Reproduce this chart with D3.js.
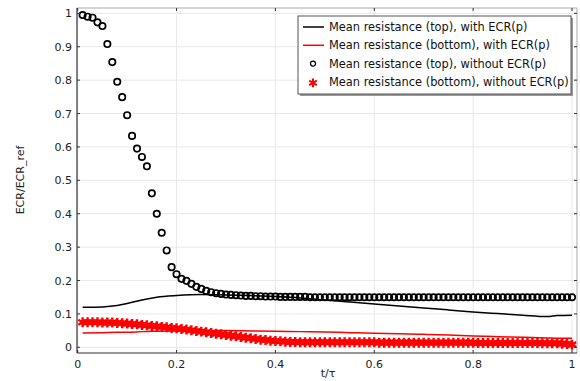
<!DOCTYPE html>
<meta charset="utf-8">
<style>
    html, body { margin: 0; background: #fff; }
    svg { display: block; font-family: "DejaVu Sans", sans-serif; }
    .grid line { stroke: #e8e8e8; stroke-width: 1; }
    .tick-label { font-size: 11px; fill: #222; }
    .legend text { font-size: 11.4px; fill: #111; }
</style>
<div id="chart"></div>
<script src="https://d3js.org/d3.v7.min.js"></script>
<script>
    // t/tau sample points for the marker series (0.01 .. 1.00)
    var tMarkers = d3.range(1, 101).map(function(i) { return i / 100; });

    // Mean resistance (top), without ECR(p) - open circles
    var topWithout = [
        0.995, 0.990, 0.987, 0.973, 0.962, 0.908, 0.854, 0.795, 0.749, 0.695,
        0.633, 0.595, 0.570, 0.542, 0.461, 0.400, 0.343, 0.290, 0.240, 0.219,
        0.205, 0.199, 0.190, 0.181, 0.175, 0.169, 0.165, 0.162, 0.160, 0.158,
        0.157, 0.156, 0.155, 0.154, 0.154, 0.153, 0.153, 0.152, 0.152, 0.152,
        0.151, 0.151, 0.151, 0.151, 0.151, 0.151, 0.150, 0.150, 0.150, 0.150,
        0.150, 0.150, 0.150, 0.150, 0.150, 0.150, 0.150, 0.150, 0.150, 0.150,
        0.150, 0.150, 0.150, 0.150, 0.150, 0.150, 0.150, 0.150, 0.150, 0.150,
        0.150, 0.150, 0.150, 0.150, 0.150, 0.150, 0.150, 0.150, 0.150, 0.150,
        0.150, 0.150, 0.150, 0.150, 0.150, 0.150, 0.150, 0.150, 0.150, 0.150,
        0.150, 0.150, 0.150, 0.150, 0.150, 0.150, 0.150, 0.150, 0.150, 0.150
    ];

    // Mean resistance (bottom), without ECR(p) - red asterisks
    var bottomWithout = [
        0.075, 0.075, 0.075, 0.075, 0.074, 0.074, 0.074, 0.073, 0.072, 0.071,
        0.070, 0.069, 0.067, 0.066, 0.064, 0.063, 0.061, 0.060, 0.058, 0.057,
        0.055, 0.053, 0.051, 0.049, 0.047, 0.045, 0.043, 0.041, 0.039, 0.037,
        0.035, 0.033, 0.031, 0.029, 0.027, 0.025, 0.023, 0.022, 0.020, 0.019,
        0.018, 0.017, 0.016, 0.016, 0.015, 0.015, 0.015, 0.015, 0.015, 0.015,
        0.015, 0.015, 0.015, 0.015, 0.015, 0.015, 0.015, 0.015, 0.015, 0.015,
        0.014, 0.014, 0.014, 0.014, 0.014, 0.014, 0.014, 0.014, 0.014, 0.014,
        0.014, 0.014, 0.014, 0.014, 0.014, 0.014, 0.014, 0.014, 0.014, 0.014,
        0.013, 0.013, 0.013, 0.013, 0.013, 0.013, 0.013, 0.013, 0.013, 0.013,
        0.013, 0.013, 0.013, 0.012, 0.012, 0.012, 0.012, 0.011, 0.010, 0.008
    ];

    // t/tau points for the two solid curves
    var tLines = [0.01, 0.05, 0.08, 0.10, 0.13, 0.16, 0.20, 0.25, 0.30, 0.35, 0.40, 0.45,
                  0.50, 0.55, 0.60, 0.65, 0.70, 0.75, 0.80, 0.85, 0.90, 0.95, 0.97, 1.00];
    // Mean resistance (top), with ECR(p)
    var topWith = [0.120, 0.121, 0.125, 0.131, 0.142, 0.150, 0.155, 0.158, 0.157, 0.155, 0.152, 0.148,
                   0.142, 0.136, 0.130, 0.124, 0.118, 0.112, 0.106, 0.101, 0.096, 0.092, 0.095, 0.096];
    // Mean resistance (bottom), with ECR(p)
    var bottomWith = [0.043, 0.044, 0.045, 0.045, 0.047, 0.048, 0.049, 0.050, 0.050, 0.049, 0.048, 0.047,
                      0.046, 0.044, 0.042, 0.041, 0.039, 0.037, 0.034, 0.032, 0.030, 0.028, 0.027, 0.027];

    var xTicks = [0, 0.2, 0.4, 0.6, 0.8, 1];
    var yTicks = [0, 0.1, 0.2, 0.3, 0.4, 0.5, 0.6, 0.7, 0.8, 0.9, 1];

    var legendLabels = [
        "Mean resistance (top), with ECR(p)",
        "Mean resistance (bottom), with ECR(p)",
        "Mean resistance (top), without ECR(p)",
        "Mean resistance (bottom), without ECR(p)"
    ];

    var width = 580, height = 381;
    // plot box edges (not "top": that name is taken by window.top)
    var pLeft = 77, pRight = 577, pTop = 8, pBottom = 353;

    var svg = d3.select("#chart").append("svg")
        .attr("width", width)
        .attr("height", height);

    var x = d3.scaleLinear().domain([-0.0014, 1.0101]).range([pLeft, pRight]);
    var y = d3.scaleLinear().domain([-0.017, 1.016]).range([pBottom, pTop]);

    // grid
    var grid = svg.append("g").attr("class", "grid");
    grid.selectAll("line.gx").data(xTicks).enter().append("line")
        .attr("x1", function(d) { return x(d); }).attr("x2", function(d) { return x(d); })
        .attr("y1", pTop).attr("y2", pBottom);
    grid.selectAll("line.gy").data(yTicks).enter().append("line")
        .attr("y1", function(d) { return y(d); }).attr("y2", function(d) { return y(d); })
        .attr("x1", pLeft).attr("x2", pRight);

    // clip the data to the plot area
    svg.append("clipPath").attr("id", "plot-clip")
        .append("rect").attr("x", pLeft).attr("y", pTop)
        .attr("width", pRight - pLeft).attr("height", pBottom - pTop);
    var plot = svg.append("g").attr("clip-path", "url(#plot-clip)");

    var line = d3.line()
        .x(function(d) { return x(d[0]); })
        .y(function(d) { return y(d[1]); })
        .curve(d3.curveMonotoneX);

    plot.append("path")
        .datum(d3.zip(tLines, bottomWith))
        .attr("d", line)
        .attr("fill", "none")
        .attr("stroke", "#ff0000")
        .attr("stroke-width", 1.5);

    var star = d3.symbol().type(d3.symbolAsterisk).size(70);
    plot.selectAll("path.star").data(d3.zip(tMarkers, bottomWithout)).enter().append("path")
        .attr("class", "star")
        .attr("d", star)
        .attr("transform", function(d) { return "translate(" + x(d[0]) + "," + y(d[1]) + ")"; })
        .attr("fill", "none")
        .attr("stroke", "#ff0000")
        .attr("stroke-width", 2.4);

    plot.append("path")
        .datum(d3.zip(tLines, topWith))
        .attr("d", line)
        .attr("fill", "none")
        .attr("stroke", "#000")
        .attr("stroke-width", 1.5);

    plot.selectAll("circle.top").data(d3.zip(tMarkers, topWithout)).enter().append("circle")
        .attr("class", "top")
        .attr("cx", function(d) { return x(d[0]); })
        .attr("cy", function(d) { return y(d[1]); })
        .attr("r", 3.2)
        .attr("fill", "none")
        .attr("stroke", "#000")
        .attr("stroke-width", 1.7);

    // frame: darker left/bottom, lighter top/right
    svg.append("line").attr("x1", pLeft).attr("x2", pRight).attr("y1", pTop).attr("y2", pTop)
        .attr("stroke", "#aaa");
    svg.append("line").attr("x1", pRight).attr("x2", pRight).attr("y1", pTop).attr("y2", pBottom)
        .attr("stroke", "#aaa");
    svg.append("line").attr("x1", pLeft).attr("x2", pLeft).attr("y1", pTop).attr("y2", pBottom)
        .attr("stroke", "#333").attr("stroke-width", 1.2);
    svg.append("line").attr("x1", pLeft).attr("x2", pRight).attr("y1", pBottom).attr("y2", pBottom)
        .attr("stroke", "#333").attr("stroke-width", 1.2);

    // inner ticks on all four sides
    var ticks = svg.append("g").attr("stroke", "#333");
    xTicks.forEach(function(d) {
        ticks.append("line").attr("x1", x(d)).attr("x2", x(d)).attr("y1", pBottom).attr("y2", pBottom - 3);
        ticks.append("line").attr("x1", x(d)).attr("x2", x(d)).attr("y1", pTop).attr("y2", pTop + 3);
    });
    yTicks.forEach(function(d) {
        ticks.append("line").attr("y1", y(d)).attr("y2", y(d)).attr("x1", pLeft).attr("x2", pLeft + 3);
        ticks.append("line").attr("y1", y(d)).attr("y2", y(d)).attr("x1", pRight).attr("x2", pRight - 3);
    });

    // tick labels
    svg.selectAll("text.xl").data(xTicks).enter().append("text")
        .attr("class", "tick-label")
        .attr("x", function(d) { return x(d); })
        .attr("y", 368)
        .attr("text-anchor", "middle")
        .text(function(d) { return d3.format("~g")(d); });
    svg.selectAll("text.yl").data(yTicks).enter().append("text")
        .attr("class", "tick-label")
        .attr("x", 72)
        .attr("y", function(d) { return y(d) + 4; })
        .attr("text-anchor", "end")
        .text(function(d) { return d3.format("~g")(d); });

    // axis titles
    svg.append("text").attr("class", "tick-label")
        .attr("x", 328).attr("y", 377)
        .attr("text-anchor", "middle")
        .text("t/τ");
    svg.append("text").attr("class", "tick-label")
        .attr("transform", "translate(24,180) rotate(-90)")
        .attr("text-anchor", "middle")
        .text("ECR/ECR_ref");

    // legend with a drop shadow
    var lx = 298, ly = 16, lw = 273, lh = 78;
    var legend = svg.append("g").attr("class", "legend");
    legend.append("rect").attr("x", lx + 2).attr("y", ly + 2).attr("width", lw).attr("height", lh)
        .attr("fill", "#999");
    legend.append("rect").attr("x", lx).attr("y", ly).attr("width", lw).attr("height", lh)
        .attr("fill", "#fff").attr("stroke", "#555");

    var rows = legend.selectAll("g.row").data(legendLabels).enter().append("g")
        .attr("transform", function(d, i) { return "translate(" + lx + "," + (ly + 11 + i * 18.3) + ")"; });
    rows.append("text").attr("x", 31).attr("y", 4).text(function(d) { return d; });

    rows.filter(function(d, i) { return i < 2; }).append("line")
        .attr("x1", 5).attr("x2", 26).attr("y1", 0).attr("y2", 0)
        .attr("stroke", function(d, i) { return i === 0 ? "#000" : "#ff0000"; })
        .attr("stroke-width", 1.5);
    rows.filter(function(d, i) { return i === 2; }).append("circle")
        .attr("cx", 15).attr("cy", 0).attr("r", 2.5)
        .attr("fill", "none").attr("stroke", "#000").attr("stroke-width", 1.3);
    rows.filter(function(d, i) { return i === 3; }).append("path")
        .attr("d", d3.symbol().type(d3.symbolAsterisk).size(55))
        .attr("transform", "translate(15,1)")
        .attr("fill", "none").attr("stroke", "#ff0000").attr("stroke-width", 2);
</script>
